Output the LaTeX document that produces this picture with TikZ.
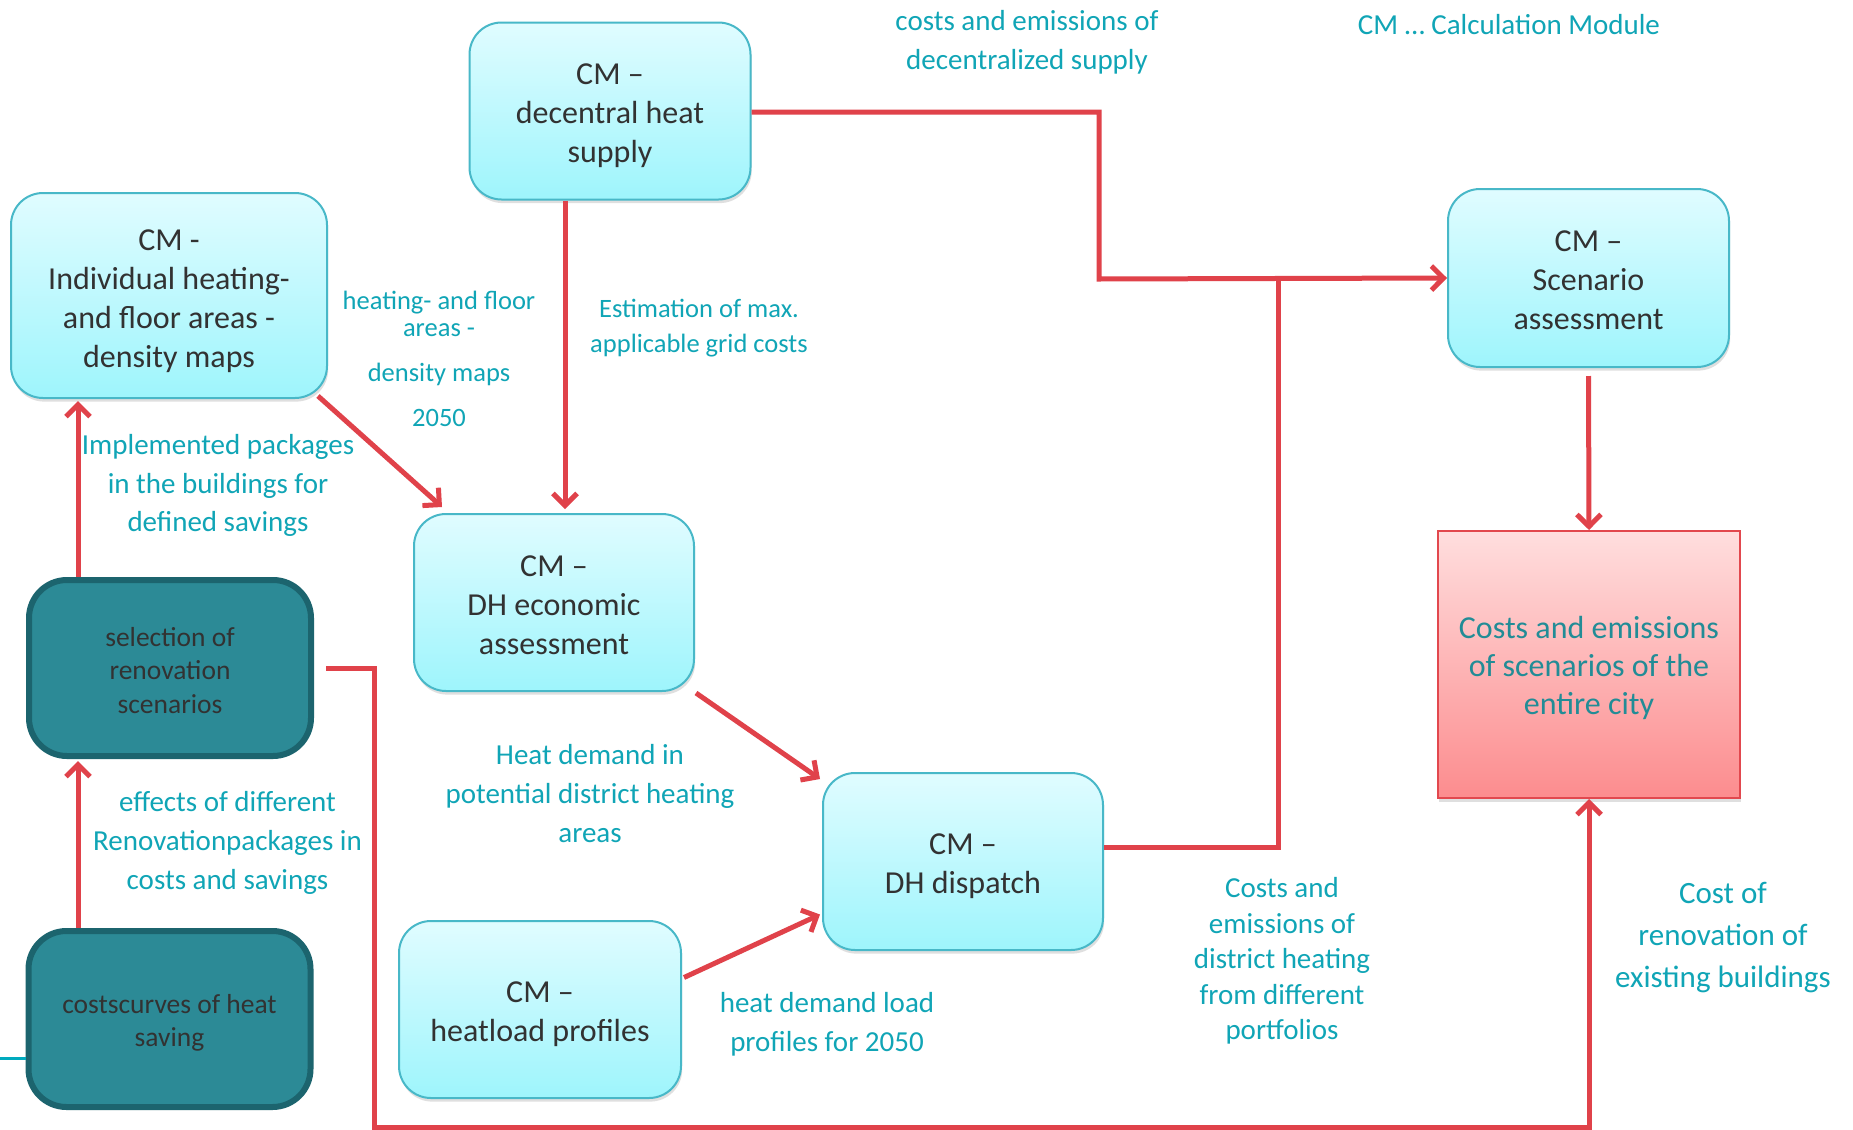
\documentclass[tikz,border=0pt]{standalone}
\usepackage{fontspec}
\setmainfont{Carlito}
\usetikzlibrary{arrows.meta,shadows,calc}
\definecolor{lbl}{RGB}{16,165,182}
\definecolor{boxtext}{RGB}{50,50,50}
\definecolor{cytop}{RGB}{224,252,255}
\definecolor{cybot}{RGB}{158,245,252}
\definecolor{cyborder}{RGB}{72,184,200}
\definecolor{darkfill}{RGB}{44,138,150}
\definecolor{darkborder}{RGB}{28,100,110}
\definecolor{redline}{RGB}{224,66,74}
\definecolor{redtop}{RGB}{255,222,222}
\definecolor{redbot}{RGB}{252,140,142}
\definecolor{redborder}{RGB}{226,72,78}
\definecolor{citytext}{RGB}{34,140,150}
\definecolor{tealline}{RGB}{0,170,190}
\newcommand\topgap[1]{\rule{0pt}{#1}}
\tikzset{
  cmbox/.style={draw=cyborder, line width=1pt, rounded corners=16pt,
    top color=cytop, bottom color=cybot, text=boxtext, align=center,
    inner sep=0pt, font=\fontsize{16}{19.5}\selectfont,
    drop shadow={opacity=0.25, shadow xshift=0.6pt, shadow yshift=-1.8pt}},
  darkbox/.style={draw=darkborder, line width=3pt, rounded corners=19pt,
    fill=darkfill, text=boxtext, align=center, inner sep=0pt,
    font=\fontsize{13.75}{16.75}\selectfont},
  citybox/.style={draw=redborder, line width=1pt, top color=redtop,
    bottom color=redbot, text=citytext, align=center, inner sep=0pt,
    font=\fontsize{16}{19}\selectfont,
    drop shadow={opacity=0.25, shadow xshift=0.6pt, shadow yshift=-1.8pt}},
  lab/.style={text=lbl, align=center, inner sep=0pt,
    font=\fontsize{14.5}{19.5}\selectfont},
  conn/.style={draw=redline, line width=2.5pt},
  arr/.style={conn, -{Straight Barb[length=6pt,width=12pt,line width=2.5pt]}}
}
\begin{document}
\begin{tikzpicture}[x=0.5pt,y=-0.5pt]
\useasboundingbox (0,0) rectangle (1853,1130);
\fill[white] (0,0) rectangle (1853,1130);

% boxes
\node[cmbox, minimum width=140.5pt, minimum height=88.5pt] (dec) at (610,111)
  {\topgap{15pt}CM –\\decentral heat\\supply};
\node[cmbox, minimum width=158pt, minimum height=102.5pt] (ind) at (169,295.5)
  {\topgap{16.3pt}CM -\\Individual heating-\\and floor areas -\\density maps};
\node[cmbox, minimum width=140pt, minimum height=88.5pt] (econ) at (554,602.5)
  {\topgap{13.3pt}CM –\\DH economic\\assessment};
\node[cmbox, minimum width=140pt, minimum height=88.5pt] (disp) at (963,861.5)
  {\topgap{15.3pt}CM –\\DH dispatch};
\node[cmbox, minimum width=141pt, minimum height=88.5pt] (heat) at (540,1009.5)
  {\topgap{15.3pt}CM –\\heatload profiles};
\node[cmbox, minimum width=140.5pt, minimum height=89pt] (scen) at (1588.5,278)
  {\topgap{12.8pt}CM –\\Scenario\\assessment};
\node[citybox, minimum width=151pt, minimum height=133.5pt] (city) at (1589,664.5)
  {\topgap{14.5pt}Costs and emissions\\of scenarios of the\\entire city};
\node[darkbox, minimum width=141pt, minimum height=88pt] (sel) at (170,668)
  {\topgap{11.6pt}selection of\\renovation\\scenarios};
\node[darkbox, minimum width=141pt, minimum height=88pt] (cost) at (169.5,1019)
  {\topgap{13.1pt}costscurves of heat\\saving};

% helper coordinates
\coordinate (x565) at (565,0);
\coordinate (x78) at (78,0);
\coordinate (j1) at (1099,112);
\coordinate (j2) at (1099,279);
\coordinate (j3) at (1278,847);
\coordinate (j4) at (1278,279);
\coordinate (s1) at (374,668);
\coordinate (s2) at (374,1127);
\coordinate (s3) at (1589,1127);
\coordinate (tl) at (0,1058);

% connectors
\draw[arr] (dec.east |- j1) -- (j1) -- (j2) -- (scen.west);
\draw[conn] (disp.east |- j3) -- (j3) -- (j4);
\draw[arr] (x565 |- dec.south) -- ($(x565 |- econ.north)+(0,-4)$);
\draw[arr] ($(ind.south east)+(-10,-3)$) -- ($(econ.north west)+(29,-6)$);
\draw[arr] (x78 |- sel.north) -- ($(x78 |- ind.south)+(0,2)$);
\draw[arr] (x78 |- cost.north) -- ($(x78 |- sel.south)+(0,2)$);
\draw[arr] ($(econ.south east)+(1,1)$) -- ($(disp.north west)+(-2,7)$);
\draw[arr] ($(heat.east)+(2,-32)$) -- ($(disp.west)+(-2,53)$);
\draw[arr] ($(scen.south)+(0,8)$) -- (city.north);
\draw[arr] ($(sel.east)+(12,0)$) -- (s1) -- (s2) -- (s3) -- (city.south);
\draw[draw=tealline, line width=1.5pt] (tl) -- (cost.west |- tl);

% labels
\node[lab] (l1) at (1027,42) {costs and emissions of\\decentralized supply};
\node[lab] (l2) at (1509,25) {CM … Calculation Module};
\node[lab, font=\fontsize{13.25}{13.5}\selectfont] (l3) at (439,313.5) {heating- and floor\\areas -};
\node[lab, font=\fontsize{13.25}{13.5}\selectfont] (l3b) at (439,374) {density maps};
\node[lab, font=\fontsize{13.25}{13.5}\selectfont] (l3c) at (439,418) {2050};
\node[lab, font=\fontsize{13.25}{17.5}\selectfont] (l4) at (699,328) {Estimation of max.\\applicable grid costs};
\node[lab, font=\fontsize{14.5}{19.25}\selectfont] (l5) at (218,485.5) {Implemented packages\\in the buildings for\\defined savings};
\node[lab] (l6) at (590,794) {Heat demand in\\potential district heating\\areas};
\node[lab] (l7) at (227.5,842.5) {effects of different\\Renovationpackages in\\costs and savings};
\node[lab] (l8) at (827,1024.5) {heat demand load\\profiles for 2050};
\node[lab, font=\fontsize{14.5}{17.7}\selectfont] (l9) at (1282,961) {Costs and\\emissions of\\district heating\\from different\\portfolios};
\node[lab, font=\fontsize{15.5}{21}\selectfont] (l10) at (1723,938) {Cost of\\renovation of\\existing buildings};
\end{tikzpicture}
\end{document}
